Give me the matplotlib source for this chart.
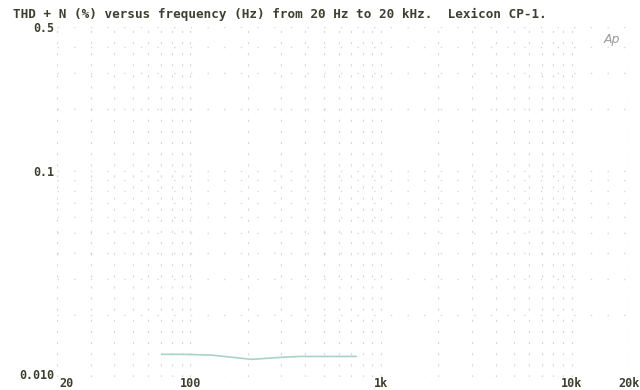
import matplotlib
matplotlib.use("Agg")
import matplotlib.pyplot as plt
import matplotlib.transforms as mtransforms

# THD+N sweep of the Lexicon CP-1
freq_hz = [71, 92, 128, 177, 210, 309, 378, 547, 740]
thdn_pct = [0.0129, 0.0129, 0.0128, 0.0124, 0.0122, 0.0125, 0.0126, 0.0126, 0.0126]

x_ticks = [20, 100, 1000, 10000, 20000]
x_labels = ["20", "100", "1k", "10k", "20k"]
y_ticks = [0.01, 0.1, 0.5]
y_labels = ["0.010", "0.1", "0.5"]

title = "THD + N (%) versus frequency (Hz) from 20 Hz to 20 kHz.  Lexicon CP-1."

ink = "#3e3e30"
grid_col = "#bdbdbd"
mono = ["DejaVu Sans Mono"]

fig = plt.figure(figsize=(6.4, 3.9), dpi=100)
ax = fig.add_axes([0.089, 0.033, 0.894, 0.898])
ax.set_xscale("log")
ax.set_yscale("log")
ax.set_xlim(20, 20000)
ax.set_ylim(0.01, 0.5)

# dotted log grid
vgrid = [m * d for d in (10, 100, 1000, 10000) for m in range(1, 10)]
vgrid = [v for v in vgrid if 20 <= v <= 20000] + [20000]
hgrid = [m * d for d in (0.01, 0.1) for m in range(1, 10)]
hgrid = [h for h in hgrid if 0.01 <= h <= 0.5]
for v in vgrid:
    ax.axvline(v, color=grid_col, lw=0.8, ls=(0, (2, 8)), alpha=0.6, zorder=1)
for h in hgrid:
    ax.axhline(h, color=grid_col, lw=1.0, ls=(0, (1, 11)), alpha=0.6, zorder=1)

ax.plot(freq_hz, thdn_pct, color="#a9d3c9", lw=1.2, zorder=3)

for s in ax.spines.values():
    s.set_visible(False)
ax.set_xticks(x_ticks)
ax.set_xticklabels(x_labels, family=mono, fontweight="bold", fontsize=8.5, color=ink)
ax.set_yticks(y_ticks)
ax.set_yticklabels(y_labels, family=mono, fontweight="bold", fontsize=8.4, color=ink)
ax.xaxis.set_minor_locator(matplotlib.ticker.NullLocator())
ax.yaxis.set_minor_locator(matplotlib.ticker.NullLocator())
ax.tick_params(axis="both", length=0)
ax.tick_params(axis="x", pad=0)
ax.tick_params(axis="y", pad=2)

# nudge the corner labels apart
first_x = ax.get_xticklabels()[0]
first_x.set_transform(first_x.get_transform()
                      + mtransforms.ScaledTranslation(10 / 100, 0, fig.dpi_scale_trans))
first_y = ax.get_yticklabels()[0]
first_y.set_transform(first_y.get_transform()
                      + mtransforms.ScaledTranslation(0, 3 / 100, fig.dpi_scale_trans))

fig.text(13 / 640, 1 - 14 / 390, title, family=mono, fontweight="bold",
         fontsize=9.1, color=ink, ha="left", va="center")
fig.text(612 / 640, 1 - 40 / 390, "Ap", fontstyle="italic", fontsize=9,
         color="#9a9a9a", ha="center", va="center")

fig.savefig("out.png", dpi=100, facecolor="white")
